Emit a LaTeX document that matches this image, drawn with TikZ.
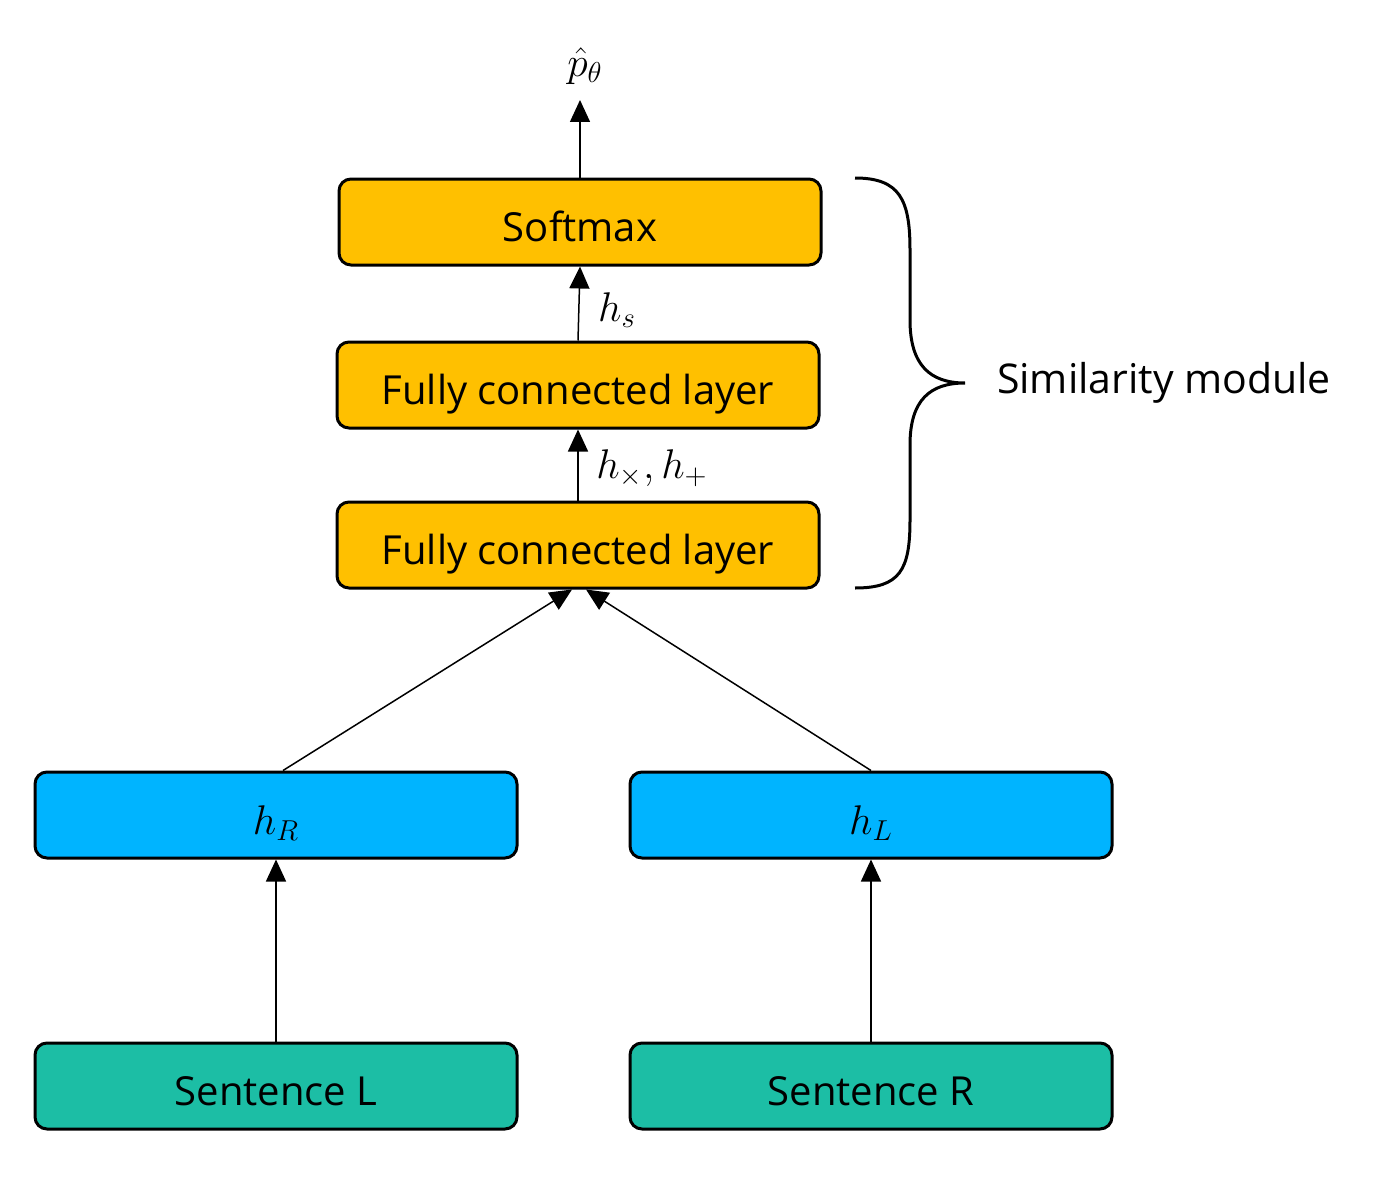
\documentclass[tikz,border=0pt]{standalone}
\usepackage{amsmath,amssymb}
\usepackage{fontspec}
\setmainfont{Open Sans}
\usepackage{tikz}
\usetikzlibrary{arrows.meta}

\definecolor{fcorange}{RGB}{255,192,0}
\definecolor{hblue}{RGB}{0,180,255}
\definecolor{sentteal}{RGB}{28,190,165}

\tikzset{
  layerbox/.style={draw=black, line width=1.5pt, rounded corners=6pt,
    minimum width=241pt, minimum height=43pt, inner sep=0pt,
    text height=20pt, text depth=1pt,
    font=\fontsize{20}{24}\selectfont},
  uparrow/.style={line width=0.75pt, -{Triangle[length=11pt,width=10pt]}},
  mathlabel/.style={font=\fontsize{20}{24}\selectfont}
}

\begin{document}
\begin{tikzpicture}[x=0.5pt, y=-0.5pt]
        \useasboundingbox (0,0) rectangle (1386,1204);
        % similarity module
        \node[layerbox, fill=fcorange] (softmax) at (580, 222) {Softmax};
        \node[layerbox, fill=fcorange] (fc2) at (578, 385) {Fully connected layer};
        \node[layerbox, fill=fcorange] (fc1) at (578, 545) {Fully connected layer};
        % sentence encodings
        \node[layerbox, fill=hblue] (hR) at (276, 815) {$h_R$};
        \node[layerbox, fill=hblue] (hL) at (871, 815) {$h_L$};
        \node[layerbox, fill=sentteal] (sentL) at (276, 1086) {Sentence L};
        \node[layerbox, fill=sentteal] (sentR) at (871, 1086) {Sentence R};
        \coordinate (out) at (580, 100);
        \node[mathlabel] (phat) at (585, 66) {$\hat{p}_\theta$};
        \node[mathlabel] (hs) at (617, 310) {$h_s$};
        \node[mathlabel] (hxp) at (652, 468) {$h_\times, h_+$};
        \node[font=\fontsize{20.5}{24}\selectfont] (simlabel) at (1164, 383) {Similarity module};
        % arrows
        \draw[uparrow] (softmax.north) to (out);
        \draw[uparrow] (fc2.north) to (softmax.south);
        \draw[uparrow] (fc1.north) to (fc2.south);
        \draw[uparrow] ([xshift=3.5pt]hR.north) to ([xshift=-3pt]fc1.south);
        \draw[uparrow] (hL.north) to ([xshift=4pt]fc1.south);
        \draw[uparrow] (sentL.north) to (hR.south);
        \draw[uparrow] (sentR.north) to (hL.south);
        % brace
        \draw[line width=1.5pt] (855,178) .. controls (900,178) and (910,200) .. (910,250)
            -- (910,320) .. controls (910,365) and (930,383) .. (965,383)
            .. controls (930,383) and (910,400) .. (910,445)
            -- (910,520) .. controls (910,570) and (900,588) .. (855,588);
    \end{tikzpicture}
\end{document}
